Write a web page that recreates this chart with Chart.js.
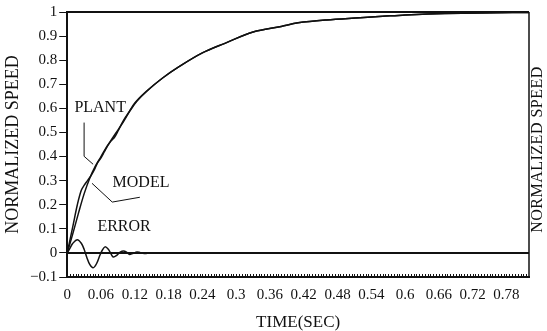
<!DOCTYPE html>
<html>
<head>
<meta charset="utf-8">
<script src="https://cdn.jsdelivr.net/npm/chart.js@4.4.0/dist/chart.umd.min.js"></script>
<style>
  html, body { margin: 0; padding: 0; background: #fff; }
  #wrap { width: 547px; height: 331px; }
</style>
</head>
<body>
<div id="wrap"><canvas id="myChart"></canvas></div>
<script>
// values
const tModel = [0, 0.01, 0.02, 0.03, 0.04, 0.05, 0.06, 0.07, 0.08, 0.09, 0.1, 0.12, 0.14, 0.17, 0.2, 0.24, 0.28, 0.33, 0.38, 0.41, 0.46, 0.52, 0.56, 0.6, 0.64, 0.7, 0.76, 0.82];
const model = [0, 0.08, 0.165, 0.245, 0.31, 0.36, 0.4, 0.44, 0.475, 0.51, 0.545, 0.622, 0.67, 0.727, 0.775, 0.83, 0.87, 0.917, 0.94, 0.955, 0.967, 0.976, 0.982, 0.988, 0.992, 0.995, 0.997, 0.998];

const tPlant = [0, 0.01, 0.018, 0.025, 0.03, 0.036, 0.042, 0.048, 0.054, 0.06, 0.066, 0.072, 0.078, 0.084, 0.09, 0.1, 0.11, 0.124, 0.14, 0.17, 0.2, 0.24, 0.28, 0.33, 0.38, 0.41, 0.46, 0.52, 0.56, 0.6, 0.64, 0.7, 0.76, 0.82];
const plant = [0, 0.11, 0.2, 0.26, 0.28, 0.3, 0.32, 0.345, 0.375, 0.395, 0.42, 0.445, 0.465, 0.48, 0.505, 0.55, 0.585, 0.63, 0.668, 0.727, 0.775, 0.83, 0.87, 0.917, 0.94, 0.955, 0.967, 0.976, 0.982, 0.988, 0.992, 0.995, 0.997, 0.998];

const tErr = [0, 0.005, 0.01, 0.018, 0.025, 0.03, 0.035, 0.04, 0.046, 0.052, 0.058, 0.062, 0.067, 0.073, 0.078, 0.082, 0.088, 0.094, 0.1, 0.106, 0.11, 0.116, 0.124, 0.13, 0.14, 0.15, 0.16, 0.82];
const err = [0, 0.02, 0.04, 0.055, 0.04, 0.015, -0.02, -0.048, -0.062, -0.045, -0.01, 0.01, 0.025, 0.015, -0.005, -0.017, -0.01, 0.003, 0.008, 0.002, -0.006, -0.003, 0.004, 0.001, -0.002, 0.001, 0, 0];

const xTicks = [0, 0.06, 0.12, 0.18, 0.24, 0.3, 0.36, 0.42, 0.48, 0.54, 0.6, 0.66, 0.72, 0.78];
const yTicks = [-0.1, 0, 0.1, 0.2, 0.3, 0.4, 0.5, 0.6, 0.7, 0.8, 0.9, 1];

// callouts: text anchor + leader line points in data units
const notes = [
    { text: 'PLANT', at: [0.0585, 0.603], leader: [[0.030, 0.541], [0.030, 0.401], [0.046, 0.368]] },
    { text: 'MODEL', at: [0.131, 0.289], leader: [[0.044, 0.289], [0.080, 0.211], [0.129, 0.231]] },
    { text: 'ERROR', at: [0.101, 0.107], leader: [] }
];

const serif = '"Liberation Serif", "Times New Roman", serif';
const ink = '#111';

const pts = (xs, ys) => xs.map((x, i) => ({ x: x, y: ys[i] }));

const line = (label, data) => ({
    label: label,
    data: data,
    borderColor: ink,
    borderWidth: 1.5,
    pointRadius: 0,
    tension: 0.35,
    fill: false
});

// frame, zero line, minor ticks, right title and callouts
const decor = {
    id: 'decor',
    afterDatasetsDraw(chart) {
        const { ctx, chartArea: a, scales: { x, y } } = chart;
        ctx.save();
        ctx.strokeStyle = ink;

        ctx.lineWidth = 2;
        ctx.beginPath();
        ctx.moveTo(a.left, a.top);
        ctx.lineTo(a.right, a.top);
        ctx.stroke();

        const y0 = y.getPixelForValue(0);
        ctx.beginPath();
        ctx.moveTo(a.left, y0);
        ctx.lineTo(a.right, y0);
        ctx.stroke();

        ctx.lineWidth = 1.5;
        ctx.beginPath();
        ctx.moveTo(a.right, a.top);
        ctx.lineTo(a.right, a.bottom);
        ctx.stroke();

        ctx.lineWidth = 1;
        ctx.beginPath();
        for (let t = 0; t <= x.max; t += 0.005) {
            const px = Math.round(x.getPixelForValue(t)) + 0.5;
            ctx.moveTo(px, a.bottom);
            ctx.lineTo(px, a.bottom - 3);
        }
        ctx.stroke();

        ctx.fillStyle = ink;
        ctx.textAlign = 'center';
        ctx.textBaseline = 'middle';

        ctx.save();
        ctx.font = '16px ' + serif;
        ctx.letterSpacing = '0.5px';
        ctx.translate(a.right + 9, (a.top + a.bottom) / 2 + 5);
        ctx.rotate(-Math.PI / 2);
        ctx.fillText('NORMALIZED SPEED', 0, 0);
        ctx.restore();

        ctx.font = '16px ' + serif;
        notes.forEach(n => {
            ctx.fillText(n.text, x.getPixelForValue(n.at[0]), y.getPixelForValue(n.at[1]));
            if (n.leader.length) {
                ctx.beginPath();
                n.leader.forEach((p, i) => {
                    const px = x.getPixelForValue(p[0]), py = y.getPixelForValue(p[1]);
                    if (i === 0) ctx.moveTo(px, py); else ctx.lineTo(px, py);
                });
                ctx.stroke();
            }
        });
        ctx.restore();
    }
};

const config = {
    type: 'line',
    data: {
        datasets: [
            line('Plant', pts(tPlant, plant)),
            line('Model', pts(tModel, model)),
            line('Error', pts(tErr, err))
        ]
    },
    options: {
        responsive: true,
        maintainAspectRatio: false,
        animation: false,
        layout: { padding: { left: 4, right: 18, top: 12, bottom: 0 } },
        plugins: {
            legend: { display: false },
            tooltip: { enabled: false }
        },
        scales: {
            x: {
                type: 'linear',
                min: 0,
                max: 0.82,
                afterBuildTicks: axis => { axis.ticks = xTicks.map(v => ({ value: v })); },
                grid: { display: false, drawTicks: false },
                border: { display: true, color: ink, width: 2 },
                ticks: {
                    color: ink,
                    padding: 9,
                    maxRotation: 0,
                    autoSkip: false,
                    font: { family: serif, size: 15 },
                    callback: v => String(Number(v.toFixed(2)))
                },
                title: {
                    display: true,
                    text: 'TIME(SEC)',
                    color: ink,
                    padding: { top: 1, bottom: 0 },
                    font: { family: serif, size: 17, lineHeight: 1 }
                }
            },
            y: {
                min: -0.1,
                max: 1,
                afterBuildTicks: axis => { axis.ticks = yTicks.map(v => ({ value: v })); },
                grid: { drawOnChartArea: false, tickLength: 8, color: ink },
                border: { display: true, color: ink, width: 2 },
                ticks: {
                    color: ink,
                    padding: 2,
                    font: { family: serif, size: 15 },
                    callback: v => v < 0 ? '\u2212' + String(Math.abs(Number(v.toFixed(1)))) : String(Number(v.toFixed(1)))
                },
                title: {
                    display: true,
                    text: 'NORMALIZED SPEED',
                    color: ink,
                    padding: { top: 0, bottom: 6 },
                    font: { family: serif, size: 18, lineHeight: 1 }
                }
            }
        }
    },
    plugins: [decor]
};

const myChart = new Chart(document.getElementById('myChart'), config);
</script>
</body>
</html>
